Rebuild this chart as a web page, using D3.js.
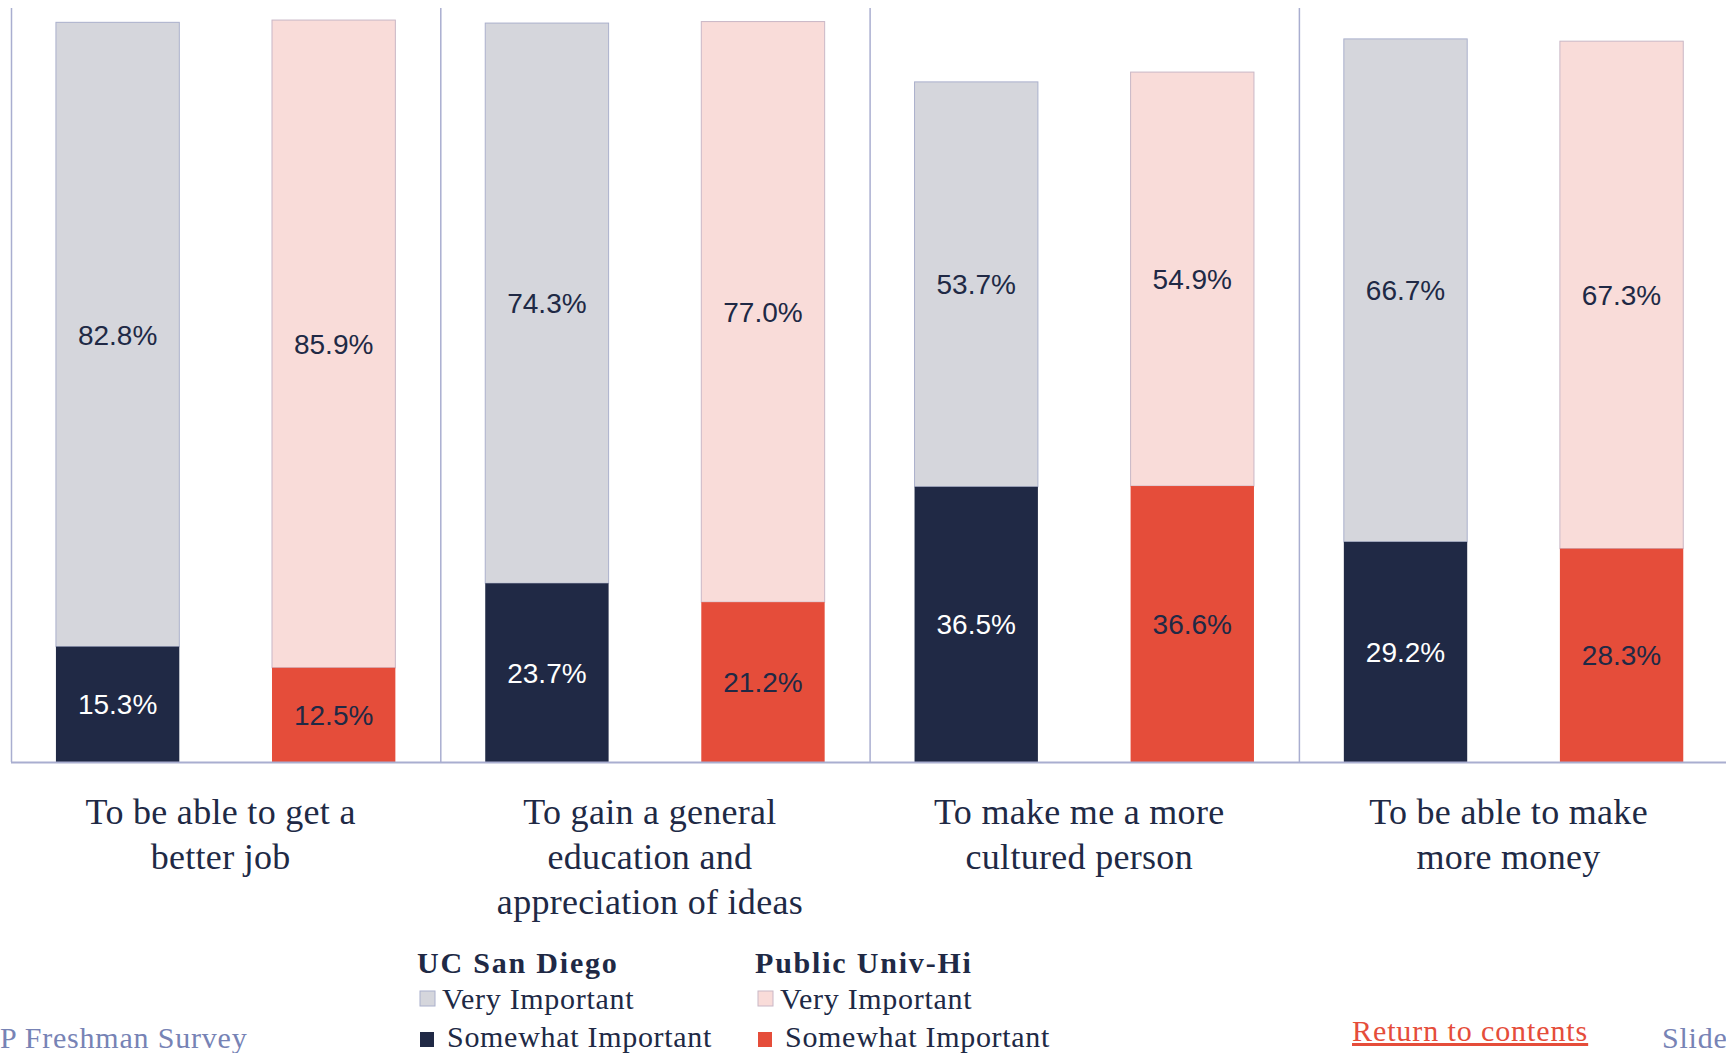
<!DOCTYPE html>
<html>
<head>
<meta charset="utf-8">
<script src="https://cdn.jsdelivr.net/npm/d3@7"></script>
<style>
  body { margin: 0; background: #fff; overflow: hidden; }
  svg { display: block; }
</style>
</head>
<body>
<div class="canvas"></div>
<script>
// data
const categories = [
    ['To be able to get a', 'better job'],
    ['To gain a general', 'education and', 'appreciation of ideas'],
    ['To make me a more', 'cultured person'],
    ['To be able to make', 'more money']
];
const schools = ['UC San Diego', 'Public Univ-Hi'];
const ucsdSomewhat = [15.3, 23.7, 36.5, 29.2];
const ucsdVery = [82.8, 74.3, 53.7, 66.7];
const publicSomewhat = [12.5, 21.2, 36.6, 28.3];
const publicVery = [85.9, 77.0, 54.9, 67.3];
const legendLabels = ['Very Important', 'Somewhat Important'];

// colours
const navy = '#202945';
const colours = {
    'UC San Diego': { very: '#d5d6dc', veryStroke: '#aab0cc', somewhat: '#202945', somewhatText: '#ffffff' },
    'Public Univ-Hi': { very: '#f9dcd9', veryStroke: '#c9b7c6', somewhat: '#e54d3a', somewhatText: '#202945' }
};
const axisColour = '#a9aed0';
const serif = '"Liberation Serif", "DejaVu Serif", serif';
const sans = '"Liberation Sans", Arial, sans-serif';

const width = 1726, height = 1053;

const svg = d3.select('.canvas')
    .append('svg')
        .attr('width', width)
        .attr('height', height);

// dimensions
const chartLeft = 11;
const groupWidth = 429.3;
const baseline = 762;
const chartTop = 8;

// scales
const x0 = d3.scaleBand()
    .domain(d3.range(categories.length))
    .range([chartLeft, chartLeft + groupWidth * categories.length])
    .paddingInner(0)
    .paddingOuter(0);

const x1 = d3.scaleBand()
    .domain(schools)
    .range([0, x0.bandwidth()])
    .paddingInner(0.429)
    .paddingOuter(0.208);

const y = d3.scaleLinear()
    .domain([0, 100])
    .range([baseline, chartTop]);

// rows for stacking
const rows = categories.map((c, i) => ({
    i,
    'UC San Diego': { somewhat: ucsdSomewhat[i], very: ucsdVery[i] },
    'Public Univ-Hi': { somewhat: publicSomewhat[i], very: publicVery[i] }
}));

const graph = svg.append('g');

// group dividers
graph.selectAll('line.divider')
    .data(d3.range(categories.length))
    .enter()
    .append('line')
        .attr('x1', d => x0(d) + 0.5)
        .attr('x2', d => x0(d) + 0.5)
        .attr('y1', chartTop)
        .attr('y2', baseline)
        .attr('stroke', axisColour)
        .attr('stroke-width', 1.5);

const groups = graph.selectAll('g.group')
    .data(rows)
    .enter()
    .append('g')
        .attr('class', 'group')
        .attr('transform', d => `translate(${x0(d.i)}, 0)`);

schools.forEach(school => {
    const c = colours[school];
    // very important (upper segment)
    groups.append('rect')
        .attr('x', x1(school))
        .attr('width', x1.bandwidth())
        .attr('y', d => y(d[school].somewhat + d[school].very))
        .attr('height', d => y(d[school].somewhat) - y(d[school].somewhat + d[school].very))
        .attr('fill', c.very)
        .attr('stroke', c.veryStroke)
        .attr('stroke-width', 1);

    // somewhat important (lower segment)
    groups.append('rect')
        .attr('x', x1(school))
        .attr('width', x1.bandwidth())
        .attr('y', d => y(d[school].somewhat))
        .attr('height', d => y(0) - y(d[school].somewhat))
        .attr('fill', c.somewhat);

    // labels
    groups.append('text')
        .attr('x', x1(school) + x1.bandwidth() / 2)
        .attr('y', d => y(d[school].somewhat + d[school].very / 2))
        .attr('dy', '0.36em')
        .attr('text-anchor', 'middle')
        .attr('font-family', sans)
        .attr('font-size', 28)
        .attr('fill', navy)
        .text(d => d[school].very.toFixed(1) + '%');

    groups.append('text')
        .attr('x', x1(school) + x1.bandwidth() / 2)
        .attr('y', d => y(d[school].somewhat / 2))
        .attr('dy', '0.36em')
        .attr('text-anchor', 'middle')
        .attr('font-family', sans)
        .attr('font-size', 28)
        .attr('fill', c.somewhatText)
        .text(d => d[school].somewhat.toFixed(1) + '%');
});

// baseline
graph.append('line')
    .attr('x1', chartLeft)
    .attr('x2', width)
    .attr('y1', baseline + 0.5)
    .attr('y2', baseline + 0.5)
    .attr('stroke', axisColour)
    .attr('stroke-width', 2);

// category labels
groups.append('text')
    .attr('text-anchor', 'middle')
    .attr('font-family', serif)
    .attr('font-size', 36)
    .attr('letter-spacing', 0.3)
    .attr('fill', navy)
    .each(function(d) {
        d3.select(this).selectAll('tspan')
            .data(categories[d.i])
            .enter()
            .append('tspan')
                .attr('x', x0.bandwidth() / 2 - 5)
                .attr('y', (t, j) => 824 + j * 45)
                .text(t => t);
    });

// legend
const legendX = [417, 755];
schools.forEach((school, k) => {
    const c = colours[school];
    const lg = svg.append('g').attr('transform', `translate(${legendX[k]}, 0)`);
    lg.append('text')
        .attr('x', 0)
        .attr('y', 973)
        .attr('font-family', serif)
        .attr('font-weight', 'bold')
        .attr('font-size', 30)
        .attr('letter-spacing', 1.8)
        .attr('fill', navy)
        .text(school);
    lg.append('rect')
        .attr('x', 3).attr('y', 991)
        .attr('width', 15).attr('height', 15)
        .attr('fill', c.very)
        .attr('stroke', c.veryStroke);
    lg.append('text')
        .attr('x', 25)
        .attr('y', 1009)
        .attr('font-family', serif)
        .attr('font-size', 30)
        .attr('letter-spacing', 0.7)
        .attr('fill', navy)
        .text(legendLabels[0]);
    lg.append('rect')
        .attr('x', 3).attr('y', 1032)
        .attr('width', 14).attr('height', 15)
        .attr('fill', c.somewhat);
    lg.append('text')
        .attr('x', 30)
        .attr('y', 1047)
        .attr('font-family', serif)
        .attr('font-size', 30)
        .attr('letter-spacing', 0.7)
        .attr('fill', navy)
        .text(legendLabels[1]);
});

// footer
svg.append('text')
    .attr('x', 0)
    .attr('y', 1048)
    .attr('font-family', serif)
    .attr('font-size', 30)
    .attr('letter-spacing', 0.8)
    .attr('fill', '#7783b5')
    .text('P Freshman Survey');

svg.append('text')
    .attr('x', 1352)
    .attr('y', 1041)
    .attr('font-family', serif)
    .attr('font-size', 30)
    .attr('letter-spacing', 0.9)
    .attr('fill', '#e54d3a')
    .attr('text-decoration', 'underline')
    .text('Return to contents');

svg.append('text')
    .attr('x', 1662)
    .attr('y', 1048)
    .attr('font-family', serif)
    .attr('font-size', 30)
    .attr('letter-spacing', 0.8)
    .attr('fill', '#7783b5')
    .text('Slide');
</script>
</body>
</html>
